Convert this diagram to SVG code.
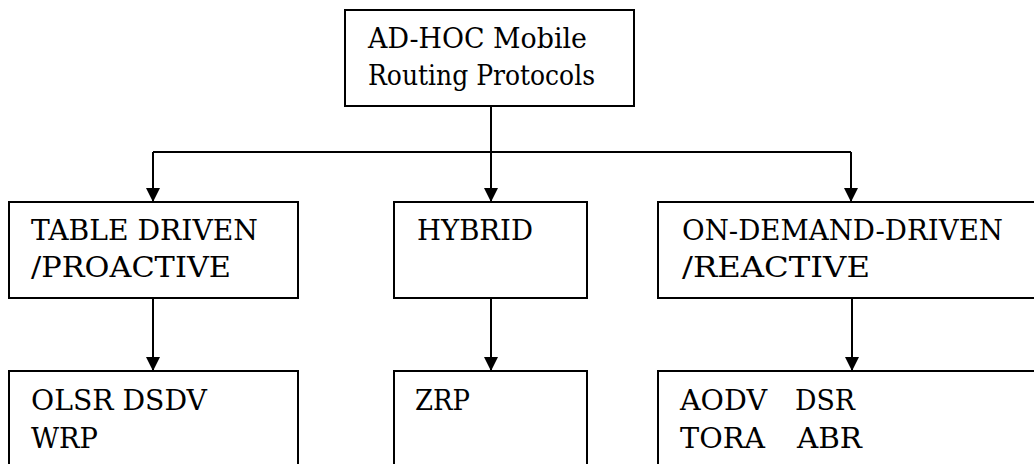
<svg xmlns="http://www.w3.org/2000/svg" width="1034" height="464" viewBox="0 0 1034 464">
  <style>
    .box { fill: #fff; stroke: #000; stroke-width: 2; }
    .lbl { font-family: 'DejaVu Serif', serif; font-size: 27px; fill: #000; }
    .wire { fill: none; stroke: #000; stroke-width: 2; }
  </style>
  <defs>
    <marker id="arrow" markerUnits="userSpaceOnUse" markerWidth="14" markerHeight="16" refX="14" refY="7" orient="auto">
      <path d="M0,0 L14,7 L0,14 Z" fill="#000"/>
    </marker>
  </defs>
  <rect width="1034" height="464" fill="#fff"/>

  <!-- connectors -->
  <g id="connectors">
    <path class="wire" d="M491,106 V152"/>
    <path class="wire" d="M153,152 H851"/>
    <path class="wire" d="M153,152 V202" marker-end="url(#arrow)"/>
    <path class="wire" d="M491,152 V202" marker-end="url(#arrow)"/>
    <path class="wire" d="M851,152 V202" marker-end="url(#arrow)"/>
    <path class="wire" d="M153,298 V371" marker-end="url(#arrow)"/>
    <path class="wire" d="M491,298 V371" marker-end="url(#arrow)"/>
    <path class="wire" d="M852,298 V371" marker-end="url(#arrow)"/>
  </g>

  <!-- root -->
  <g id="root">
    <rect class="box" x="345" y="10" width="289" height="96"/>
    <text class="lbl" x="368" y="48" textLength="219" lengthAdjust="spacingAndGlyphs">AD-HOC Mobile</text>
    <text class="lbl" x="368" y="85" textLength="227" lengthAdjust="spacingAndGlyphs">Routing Protocols</text>
  </g>

  <!-- second level -->
  <g id="proactive">
    <rect class="box" x="9" y="202" width="289" height="96"/>
    <text class="lbl" x="31" y="240" textLength="227" lengthAdjust="spacingAndGlyphs">TABLE DRIVEN</text>
    <text class="lbl" x="31" y="277" textLength="200" lengthAdjust="spacingAndGlyphs">/PROACTIVE</text>
  </g>
  <g id="hybrid">
    <rect class="box" x="394" y="202" width="193" height="96"/>
    <text class="lbl" x="417" y="240" textLength="116" lengthAdjust="spacingAndGlyphs">HYBRID</text>
  </g>
  <g id="reactive">
    <rect class="box" x="658" y="202" width="390" height="96"/>
    <text class="lbl" x="682" y="240" textLength="321" lengthAdjust="spacingAndGlyphs">ON-DEMAND-DRIVEN</text>
    <text class="lbl" x="682" y="277" textLength="188" lengthAdjust="spacingAndGlyphs">/REACTIVE</text>
  </g>

  <!-- third level -->
  <g id="proactive-list">
    <rect class="box" x="9" y="371" width="289" height="110"/>
    <text class="lbl" x="31" y="410" textLength="176" lengthAdjust="spacingAndGlyphs">OLSR DSDV</text>
    <text class="lbl" x="31" y="448" textLength="67" lengthAdjust="spacingAndGlyphs">WRP</text>
  </g>
  <g id="hybrid-list">
    <rect class="box" x="394" y="371" width="193" height="110"/>
    <text class="lbl" x="415" y="410" textLength="55" lengthAdjust="spacingAndGlyphs">ZRP</text>
  </g>
  <g id="reactive-list">
    <rect class="box" x="658" y="371" width="390" height="110"/>
    <text class="lbl" x="680" y="410" textLength="87" lengthAdjust="spacingAndGlyphs">AODV</text>
    <text class="lbl" x="795" y="410" textLength="60" lengthAdjust="spacingAndGlyphs">DSR</text>
    <text class="lbl" x="680" y="448" textLength="85" lengthAdjust="spacingAndGlyphs">TORA</text>
    <text class="lbl" x="797" y="448" textLength="65" lengthAdjust="spacingAndGlyphs">ABR</text>
  </g>
</svg>
